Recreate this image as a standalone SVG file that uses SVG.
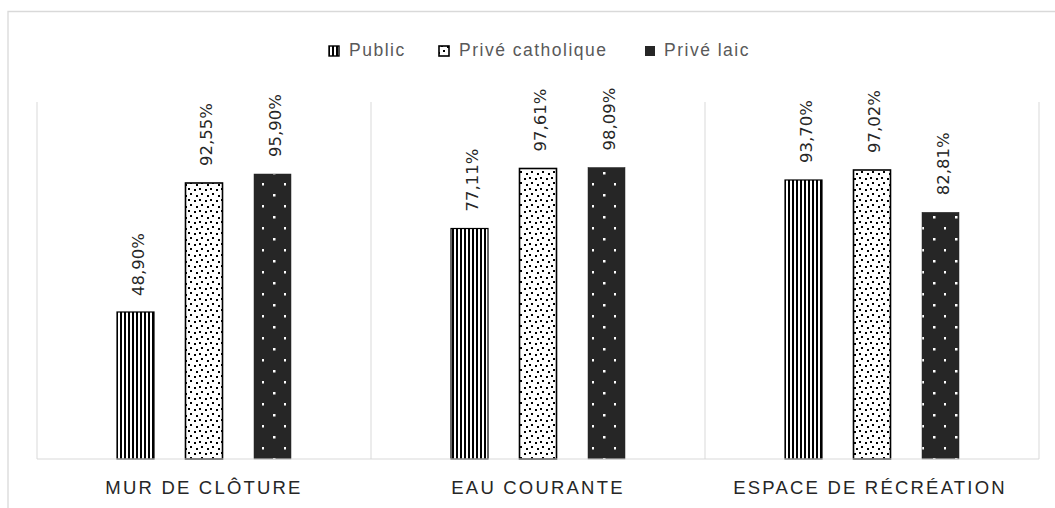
<svg xmlns="http://www.w3.org/2000/svg" width="1055" height="508" viewBox="0 0 1055 508">
<style>
.grid{stroke:#d9d9d9;stroke-width:1;fill:none}
.frame{stroke:#d9d9d9;stroke-width:1.3;fill:none}
.val{font-family:"DejaVu Sans",sans-serif;font-size:16.5px;fill:#262626}
.cat{font-family:"Liberation Sans",Arial,sans-serif;font-size:18.5px;fill:#262626;letter-spacing:2.2px;text-anchor:middle}
.leg{font-family:"Liberation Sans",Arial,sans-serif;font-size:17.5px;fill:#595959;letter-spacing:1.5px}
.pub{fill:url(#pStripe);stroke:#000;stroke-width:1.2}
.cath{fill:url(#pDots);stroke:#000;stroke-width:1.6}
.laic{fill:url(#pDark);stroke:#262626;stroke-width:0.5}
</style>
<defs>
<pattern id="pStripe" patternUnits="userSpaceOnUse" x="0" y="0" width="4" height="4">
<rect width="4" height="4" fill="#fff"/>
<rect x="0" y="0" width="2" height="4" fill="#000"/>
</pattern>
<pattern id="pDots" patternUnits="userSpaceOnUse" x="0" y="0" width="11" height="11">
<rect width="11" height="11" fill="#fff"/>
<rect x="1" y="1" width="2" height="2" fill="#000"/>
<rect x="7" y="2" width="2" height="2" fill="#000"/>
<rect x="3" y="6" width="2" height="2" fill="#000"/>
<rect x="9" y="8" width="2" height="2" fill="#000"/>
</pattern>
<pattern id="pDark" patternUnits="userSpaceOnUse" x="0" y="0" width="22" height="22">
<rect width="22" height="22" fill="#262626"/>
<rect x="20" y="7" width="2.5" height="2.5" fill="#fff"/>
<rect x="9" y="18" width="2.5" height="2.5" fill="#fff"/>
</pattern>
</defs>
<rect width="1055" height="508" fill="#fff"/>
<path class="frame" d="M8 508 V11.5 H1055"/>

<g id="grid">
<line class="grid" x1="37" y1="102" x2="37" y2="459"/>
<line class="grid" x1="371" y1="102" x2="371" y2="459"/>
<line class="grid" x1="705" y1="102" x2="705" y2="459"/>
<line class="grid" x1="1039" y1="102" x2="1039" y2="459"/>
</g>

<g id="legend">
<rect x="329" y="46" width="10" height="10" fill="url(#pStripe)" stroke="#000" stroke-width="1.4"/>
<text class="leg" x="349" y="56">Public</text>
<rect x="439" y="46" width="10" height="10" fill="url(#pDots)" stroke="#000" stroke-width="1.6"/>
<text class="leg" x="459" y="56">Privé catholique</text>
<rect x="645" y="46" width="10" height="10" fill="#262626"/>
<text class="leg" x="664" y="56">Privé laic</text>
</g>

<g id="mur-de-cloture">
<rect class="pub" x="117" y="312" width="37" height="147"/>
<rect class="cath" x="185.5" y="183" width="37" height="276"/>
<rect class="laic" x="254" y="174" width="37" height="285"/>
<text class="val" transform="translate(143.5,296) rotate(-90)">48,90%</text>
<text class="val" transform="translate(212,166) rotate(-90)">92,55%</text>
<text class="val" transform="translate(280.5,157) rotate(-90)">95,90%</text>
<text class="cat" x="204" y="494">MUR DE CLÔTURE</text>
</g>

<g id="eau-courante">
<rect class="pub" x="451" y="228.5" width="37" height="230.5"/>
<rect class="cath" x="519.5" y="168.5" width="37" height="290.5"/>
<rect class="laic" x="588" y="167.5" width="37" height="291.5"/>
<text class="val" transform="translate(477.5,211.5) rotate(-90)">77,11%</text>
<text class="val" transform="translate(546,151.5) rotate(-90)">97,61%</text>
<text class="val" transform="translate(614.5,150.5) rotate(-90)">98,09%</text>
<text class="cat" x="538" y="494">EAU COURANTE</text>
</g>

<g id="espace-de-recreation">
<rect class="pub" x="785" y="180" width="37" height="279"/>
<rect class="cath" x="853.5" y="170" width="37" height="289"/>
<rect class="laic" x="922" y="212.3" width="37" height="246.7"/>
<text class="val" transform="translate(811.5,163) rotate(-90)">93,70%</text>
<text class="val" transform="translate(880,153) rotate(-90)">97,02%</text>
<text class="val" transform="translate(948.5,195.3) rotate(-90)">82,81%</text>
<text class="cat" x="870" y="494">ESPACE DE RÉCRÉATION</text>
</g>

<g id="axis">
<line class="grid" x1="37" y1="459" x2="1039" y2="459"/>
</g>
</svg>
